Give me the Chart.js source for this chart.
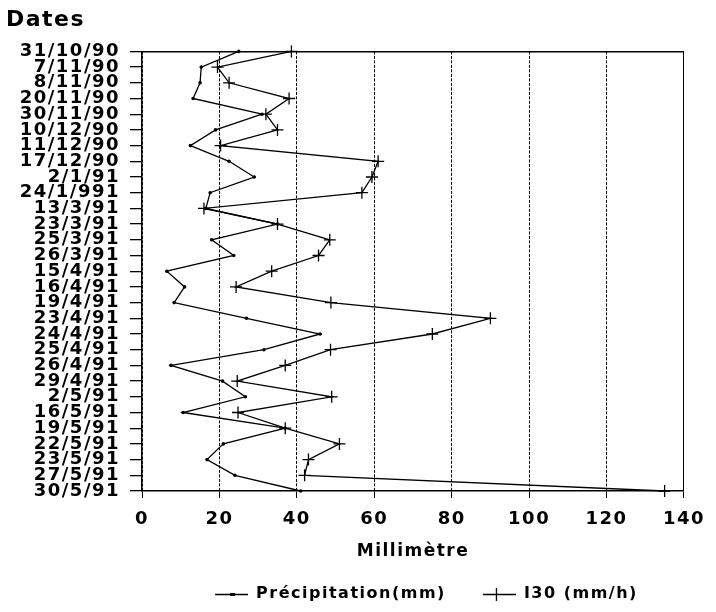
<!DOCTYPE html>
<html>
<head>
<meta charset="utf-8">
<script src="https://cdn.jsdelivr.net/npm/chart.js@4/dist/chart.umd.min.js"></script>
<style>
  body { margin: 0; background: #fff; }
  canvas { display: block; }
</style>
</head>
<body>
<canvas id="chart" width="716" height="612"></canvas>
<script>
const dates = ["31/10/90", "7/11/90", "8/11/90", "20/11/90", "30/11/90", "10/12/90", "11/12/90",
    "17/12/90", "2/1/91", "24/1/991", "13/3/91", "23/3/91", "25/3/91", "26/3/91", "15/4/91",
    "16/4/91", "19/4/91", "23/4/91", "24/4/91", "25/4/91", "26/4/91", "29/4/91", "2/5/91",
    "16/5/91", "19/5/91", "22/5/91", "23/5/91", "27/5/91", "30/5/91"];

const precipitation = [25, 15.3, 15, 13.2, 31, 19, 12.5, 22.5, 29, 17.6, 16.5, 35, 18, 23.7, 6.4,
    11, 8.3, 27, 46, 31.5, 7.5, 20.8, 26.7, 10.6, 37, 21, 16.8, 24, 41];

const i30 = [38.6, 19.5, 22.5, 38, 32, 35, 20.3, 61, 59.4, 56.8, 16, 35, 48.5, 45.6, 33.5,
    24.3, 48.8, 90, 75, 48.7, 37, 24.6, 49, 24.8, 37, 51, 43, 42, 135];

const xTicks = [0, 20, 40, 60, 80, 100, 120, 140];

Chart.defaults.font.family = "'DejaVu Sans', sans-serif";
Chart.defaults.font.weight = "bold";
Chart.defaults.color = "#000";

// legend samples: a short line with the marker on it (blank space on the left
// keeps the two legend entries apart)
function sample(kind) {
    const c = document.createElement("canvas");
    c.width = 60;
    c.height = 14;
    const g = c.getContext("2d");
    g.strokeStyle = "#000";
    g.fillStyle = "#000";
    g.lineWidth = 1.3;
    g.beginPath();
    g.moveTo(27, 7.5);
    g.lineTo(60, 7.5);
    g.stroke();
    if (kind === "dot") {
        g.fillRect(42, 6, 5, 3);
    } else {
        g.beginPath();
        g.moveTo(40.5, 1);
        g.lineTo(40.5, 14);
        g.stroke();
    }
    return c;
}

const spacing = {
    id: "spacing",
    beforeLayout(chart) { chart.ctx.letterSpacing = "1.5px"; },
    beforeDraw(chart) { chart.ctx.letterSpacing = "1.5px"; }
};

const ctx = document.getElementById("chart").getContext("2d");

new Chart(ctx, {
    type: "line",
    data: {
        labels: dates,
        datasets: [
            {
                label: "Précipitation(mm)",
                data: precipitation,
                borderColor: "#000",
                backgroundColor: "#000",
                borderWidth: 1.3,
                pointStyle: "circle",
                pointRadius: 1.8,
                pointBorderWidth: 0,
                tension: 0
            },
            {
                label: "I30 (mm/h)",
                data: i30,
                borderColor: "#000",
                backgroundColor: "#000",
                borderWidth: 1.3,
                pointStyle: "cross",
                pointRadius: 6,
                pointBorderWidth: 1.3,
                tension: 0
            }
        ]
    },
    options: {
        indexAxis: "y",
        responsive: false,
        animation: false,
        layout: { padding: { left: 6, right: 26, top: 0, bottom: 0 } },
        scales: {
            y: {
                type: "category",
                offset: false,
                grid: { drawOnChartArea: false, drawTicks: true, tickLength: 12, color: "#000", lineWidth: 1.3 },
                border: { display: true, color: "#000", width: 1.5 },
                ticks: { autoSkip: false, padding: 10, font: { size: 18 } },
                afterFit(s) { s.width = 136; }
            },
            x: {
                type: "linear",
                position: "bottom",
                min: 0,
                max: 140,
                afterBuildTicks(s) { s.ticks = xTicks.map(v => ({ value: v })); },
                grid: { color: "#000", lineWidth: 1, tickLength: 7, tickColor: "#000" },
                border: {
                    display: true, color: "#000", width: 1.5,
                    dash: c => (c.index === xTicks.length - 1 ? [] : [3, 1.5])
                },
                ticks: { padding: 11, font: { size: 18 } },
                title: {
                    display: true,
                    text: "Millimètre",
                    font: { size: 17 },
                    padding: { top: 4, bottom: 14 }
                },
                afterFit(s) { s.height = 85; }
            },
            top: {
                type: "linear",
                position: "top",
                display: true,
                grid: { display: false },
                ticks: { display: false },
                border: { display: true, color: "#000", width: 1.5 },
                afterFit(s) { s.height = 0; }
            }
        },
        plugins: {
            title: {
                display: true,
                text: "Dates",
                align: "start",
                font: { size: 22 },
                padding: { top: 7, bottom: 18 }
            },
            legend: {
                position: "bottom",
                fullSize: false,
                labels: {
                    usePointStyle: true,
                    pointStyleWidth: 60,
                    padding: 10,
                    font: { size: 16 },
                    generateLabels(chart) {
                        const items = Chart.defaults.plugins.legend.labels.generateLabels(chart);
                        items[0].pointStyle = sample("dot");
                        items[1].pointStyle = sample("plus");
                        return items;
                    }
                }
            },
            tooltip: { enabled: false }
        }
    },
    plugins: [spacing]
});
</script>
</body>
</html>
